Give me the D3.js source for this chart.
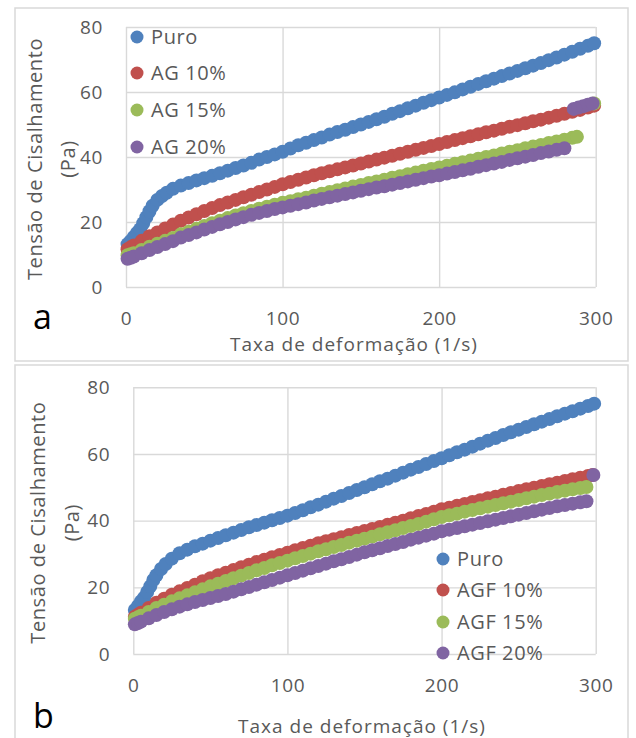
<!DOCTYPE html>
<html>
<head>
<meta charset="utf-8">
<script src="https://cdn.jsdelivr.net/npm/d3@7"></script>
<style>
body { margin: 0; background: #fff; }
svg text { font-family: "Open Sans", "Noto Sans", sans-serif; }
</style>
</head>
<body>
<svg id="chart"></svg>
<script>
var width = 636, height = 738;

var xTicks = [0, 100, 200, 300];
var yTicks = [0, 20, 40, 60, 80];
var xTitle = "Taxa de deformação (1/s)";
var yTitle = ["Tensão de Cisalhamento", "(Pa)"];
var colors = ["#4f81bd", "#c0504d", "#9bbb59", "#8064a2"];

var namesA = ["Puro", "AG 10%", "AG 15%", "AG 20%"];
var namesB = ["Puro", "AGF 10%", "AGF 15%", "AGF 20%"];

// panel a : [taxa, tensão]
var puroA = [[1,13.2],[3,14.2],[5,15.4],[7,16.6],[9,17.8],[11,19.6],[13,21.5],[15,23.3],[17,25],[20,26.8],[23,28],[26,29],[30,30.2],[35,31.2],[40,32],[45,32.8],[50,33.5],[55,34.2],[60,35],[65,35.8],[70,36.6],[75,37.4],[80,38.2],[85,39.2],[90,40],[95,40.8],[100,41.6],[105,42.6],[110,43.6],[115,44.4],[120,45.2],[125,46],[130,46.9],[135,47.7],[140,48.4],[145,49.2],[150,50],[155,50.8],[160,51.6],[165,52.4],[170,53.3],[175,54.1],[180,55],[185,55.8],[190,56.7],[195,57.5],[200,58.3],[205,59.1],[210,59.9],[215,60.8],[220,61.6],[225,62.5],[230,63.3],[235,64.1],[240,64.9],[245,65.7],[250,66.5],[255,67.3],[260,68.1],[265,68.9],[270,69.8],[275,70.6],[280,71.5],[285,72.4],[290,73.3],[295,74.2],[299,75]];
var ag10 = [[1,11.6],[3,12.2],[5,12.8],[10,14.2],[15,15.6],[20,16.8],[25,18],[30,19.2],[35,20.4],[40,21.4],[45,22.4],[50,23.4],[55,24.3],[60,25.2],[65,26],[70,26.8],[75,27.6],[80,28.4],[85,29.2],[90,30],[95,30.8],[100,31.6],[105,32.3],[110,33],[115,33.7],[120,34.4],[125,35],[130,35.6],[135,36.2],[140,36.8],[145,37.4],[150,38],[155,38.6],[160,39.2],[165,39.8],[170,40.4],[175,41],[180,41.6],[185,42.2],[190,42.8],[195,43.4],[200,44],[205,44.6],[210,45.2],[215,45.8],[220,46.4],[225,47],[230,47.6],[235,48.1],[240,48.7],[245,49.3],[250,49.8],[255,50.4],[260,51],[265,51.5],[270,52.1],[275,52.7],[280,53.3],[285,53.9],[290,54.5],[295,55.2],[299,55.8]];
var ag15 = [[1,9.8],[3,10.1],[5,10.4],[10,11.4],[15,12.4],[20,13.3],[25,14.2],[30,15.1],[35,16.2],[40,17],[45,17.9],[50,18.8],[55,19.6],[60,20.4],[65,21.2],[70,22],[75,22.7],[80,23.4],[85,24.1],[90,24.7],[95,25.3],[100,25.9],[105,26.4],[110,27],[115,27.5],[120,28.1],[125,28.7],[130,29.2],[135,29.8],[140,30.3],[145,30.9],[150,31.4],[155,32],[160,32.5],[165,33],[170,33.6],[175,34.1],[180,34.7],[185,35.2],[190,35.8],[195,36.3],[200,36.8],[205,37.3],[210,37.9],[215,38.4],[220,38.9],[225,39.5],[230,40],[235,40.5],[240,41.1],[245,41.6],[250,42.1],[255,42.7],[260,43.2],[265,43.7],[270,44.3],[275,44.8],[280,45.3],[285,45.9],[288,46.2],[299,56.5]];
var ag20 = [[1,8.7],[3,9],[5,9.4],[10,10.4],[15,11.4],[20,12.3],[25,13.2],[30,14.1],[35,15.2],[40,16],[45,16.8],[50,17.7],[55,18.5],[60,19.3],[65,20],[70,20.8],[75,21.5],[80,22.2],[85,22.8],[90,23.4],[95,24],[100,24.5],[105,25],[110,25.5],[115,26],[120,26.6],[125,27.1],[130,27.6],[135,28.1],[140,28.6],[145,29.1],[150,29.6],[155,30.1],[160,30.6],[165,31],[170,31.5],[175,32],[180,32.5],[185,33],[190,33.5],[195,34],[200,34.4],[205,34.9],[210,35.4],[215,35.9],[220,36.4],[225,37],[230,37.5],[235,38],[240,38.5],[245,39.1],[250,39.6],[255,40.1],[260,40.6],[265,41.2],[270,41.7],[275,42.2],[280,42.7],[286,54.8],[289,55.2],[292,55.6],[295,56.1],[298,56.5]];

// panel b
var puroB = [[1,13.2],[3,14.4],[5,15.8],[7,16.9],[9,18.6],[11,20.3],[13,22.2],[15,23.6],[18,25.5],[21,27],[25,28.6],[30,30.2],[35,31.3],[40,32.3],[45,33.1],[50,34],[55,34.8],[60,35.6],[65,36.4],[70,37.2],[75,38],[80,38.7],[85,39.4],[90,40.1],[95,40.8],[100,41.5],[105,42.3],[110,43.1],[115,44],[120,44.8],[125,45.7],[130,46.6],[135,47.4],[140,48.3],[145,49.2],[150,50],[155,50.9],[160,51.8],[165,52.6],[170,53.5],[175,54.4],[180,55.3],[185,56.1],[190,57],[195,57.9],[200,58.7],[205,59.6],[210,60.5],[215,61.3],[220,62.2],[225,63.1],[230,64],[235,64.8],[240,65.7],[245,66.5],[250,67.3],[255,68.1],[260,68.9],[265,69.7],[270,70.5],[275,71.3],[280,72.1],[285,72.8],[290,73.6],[295,74.4],[299,75.1]];
var agf10 = [[1,11.2],[3,11.8],[5,12.4],[10,13.8],[15,15.4],[20,16.6],[25,17.8],[30,18.8],[35,19.8],[40,20.8],[45,21.8],[50,22.7],[55,23.6],[60,24.4],[65,25.2],[70,26],[75,26.8],[80,27.6],[85,28.3],[90,29],[95,29.7],[100,30.4],[105,31.1],[110,31.8],[115,32.5],[120,33.2],[125,33.8],[130,34.4],[135,35],[140,35.7],[145,36.3],[150,36.9],[155,37.5],[160,38.1],[165,38.8],[170,39.4],[175,40],[180,40.7],[185,41.4],[190,42],[195,42.7],[200,43.4],[205,43.9],[210,44.5],[215,45],[220,45.6],[225,46.1],[230,46.7],[235,47.2],[240,47.8],[245,48.3],[250,48.9],[255,49.4],[260,49.9],[265,50.4],[270,50.9],[275,51.4],[280,51.9],[285,52.4],[290,52.9],[295,53.4],[298,53.7]];
var agf15 = [[1,10.6],[3,11],[5,11.5],[10,12.6],[15,13.8],[20,14.8],[25,15.8],[30,16.7],[35,17.6],[40,18.5],[45,19.4],[50,20.3],[55,21.1],[60,21.9],[65,22.7],[70,23.5],[75,24.3],[80,25.1],[85,25.8],[90,26.6],[95,27.3],[100,28],[105,28.7],[110,29.4],[115,30.1],[120,30.8],[125,31.4],[130,32.1],[135,32.7],[140,33.4],[145,34],[150,34.6],[155,35.2],[160,35.9],[165,36.5],[170,37.1],[175,37.8],[180,38.4],[185,39],[190,39.7],[195,40.4],[200,41.1],[205,41.6],[210,42.1],[215,42.7],[220,43.2],[225,43.7],[230,44.2],[235,44.7],[240,45.2],[245,45.7],[250,46.2],[255,46.7],[260,47.2],[265,47.7],[270,48.1],[275,48.6],[280,49],[285,49.4],[290,49.8],[294,50.1]];
var agf20 = [[1,8.9],[3,9.3],[5,9.7],[10,10.7],[15,11.7],[20,12.6],[25,13.4],[30,14.2],[35,14.9],[40,15.6],[45,16.2],[50,16.8],[55,17.4],[60,18],[65,18.7],[70,19.4],[75,20.1],[80,20.8],[85,21.5],[90,22.2],[95,22.9],[100,23.6],[105,24.3],[110,25],[115,25.7],[120,26.4],[125,27.1],[130,27.8],[135,28.4],[140,29.1],[145,29.8],[150,30.5],[155,31.1],[160,31.7],[165,32.4],[170,33],[175,33.6],[180,34.3],[185,34.9],[190,35.5],[195,36.1],[200,36.8],[205,37.3],[210,37.8],[215,38.3],[220,38.8],[225,39.3],[230,39.8],[235,40.3],[240,40.8],[245,41.3],[250,41.8],[255,42.3],[260,42.8],[265,43.3],[270,43.8],[275,44.3],[280,44.7],[285,45.1],[290,45.5],[294,45.8],[298.5,53.7]];

var svg = d3.select("#chart").attr("width", width).attr("height", height);

var panels = [
	{ box: [15, 8, 613, 353], left: 126, right: 595.7, top: 27, bottom: 287, letter: "a", letterY: 329,
	  names: namesA, series: [puroA, ag10, ag15, ag20], legX: 137, legY: [37, 73, 110, 147],
	  yTitleX: [35, 68], xTitleX: 354, xTitleY: 351 },
	{ box: [15, 365, 613, 400], left: 133.3, right: 595.7, top: 387.3, bottom: 654, letter: "b", letterY: 728,
	  names: namesB, series: [puroB, agf10, agf15, agf20], legX: 443, legY: [559, 590, 622, 653],
	  yTitleX: [38, 72], xTitleX: 362, xTitleY: 733 }
];

panels.forEach(function(p) {
	var x = d3.scaleLinear().domain([0, 300]).range([p.left, p.right]);
	var y = d3.scaleLinear().domain([0, 80]).range([p.bottom, p.top]);

	svg.append("rect")
		.attr("x", p.box[0]).attr("y", p.box[1])
		.attr("width", p.box[2]).attr("height", p.box[3])
		.attr("fill", "none")
		.attr("stroke", "#d9d9d9")
		.attr("stroke-width", 1.5);

	var xAxis = d3.axisBottom(x).tickValues(xTicks).tickSize(-(p.bottom - p.top)).tickPadding(25);
	var yAxis = d3.axisLeft(y).tickValues(yTicks).tickSize(-(p.right - p.left)).tickPadding(23);

	var gx = svg.append("g").attr("transform", "translate(0," + p.bottom + ")").call(xAxis);
	var gy = svg.append("g").attr("transform", "translate(" + p.left + ",0)").call(yAxis);

	[gx, gy].forEach(function(g) {
		g.attr("font-family", null).attr("font-size", 19);
		g.select(".domain").remove();
		g.selectAll("line").attr("stroke", "#d9d9d9").attr("stroke-width", 1.4);
		g.selectAll("text").attr("fill", "#595959").style("letter-spacing", "0.6px");
	});

	// markers, purple last so it sits on top
	p.series.forEach(function(s, i) {
		svg.append("g").selectAll("circle")
			.data(s)
			.join("circle")
			.attr("cx", function(d) { return x(d[0]); })
			.attr("cy", function(d) { return y(d[1]); })
			.attr("r", 7)
			.attr("fill", colors[i]);
	});

	var leg = svg.append("g");
	p.names.forEach(function(n, i) {
		leg.append("circle").attr("cx", p.legX).attr("cy", p.legY[i]).attr("r", 6.5).attr("fill", colors[i]);
		leg.append("text")
			.attr("x", p.legX + 14).attr("y", p.legY[i])
			.attr("dy", "0.35em")
			.attr("fill", "#595959")
			.style("font-size", "20px")
			.style("letter-spacing", "0.6px")
			.text(n);
	});

	svg.append("text")
		.attr("x", p.xTitleX).attr("y", p.xTitleY)
		.attr("text-anchor", "middle")
		.attr("fill", "#595959")
		.style("font-size", "19px")
		.style("letter-spacing", "1px")
		.text(xTitle);

	var yc = (p.top + p.bottom) / 2 + 2;
	yTitle.forEach(function(t, i) {
		svg.append("text")
			.attr("transform", "translate(" + p.yTitleX[i] + "," + yc + ") rotate(-90)")
			.attr("text-anchor", "middle")
			.attr("dy", "0.35em")
			.attr("fill", "#595959")
			.style("font-size", "20px")
			.style("letter-spacing", "0.6px")
			.text(t);
	});

	svg.append("text")
		.attr("x", 33).attr("y", p.letterY)
		.attr("fill", "#000")
		.style("font-size", "34px")
		.text(p.letter);
});
</script>
</body>
</html>
